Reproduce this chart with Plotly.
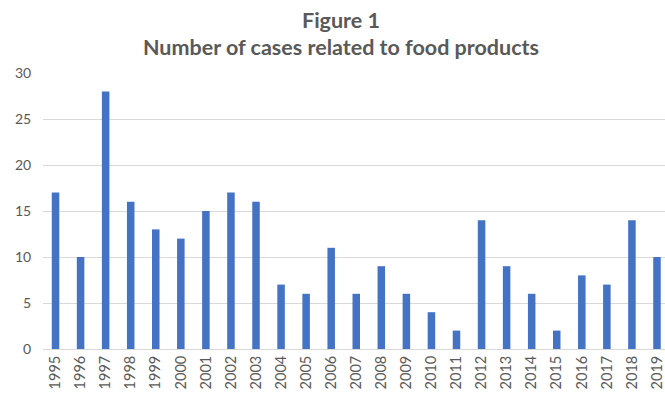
import plotly.graph_objects as go

years = [str(y) for y in range(1995, 2020)]
cases = [17, 10, 28, 16, 13, 12, 15, 17, 16, 7, 6, 11, 6, 9, 6, 4, 2, 14, 9, 6, 2, 8, 7, 14, 10]
title_lines = ["Figure 1", "Number of cases related to food products"]

fig = go.Figure(go.Bar(x=years, y=cases, marker_color="#4472C4", marker_line_width=0))

fig.update_layout(
    width=665, height=395,
    margin=dict(l=43, r=0, t=73, b=46),
    paper_bgcolor="white", plot_bgcolor="white",
    bargap=0.7,
    font=dict(family="Lato", color="#595959"),
    showlegend=False,
)
for i, (line, ypix) in enumerate(zip(title_lines, [20, 47])):
    fig.add_annotation(text="<b>" + line + "</b>", xref="paper", yref="paper",
                       x=(341 - 43) / 622, y=(395 - 46 - ypix) / 276 - 0.0,
                       yshift=0, xanchor="center", yanchor="middle", showarrow=False,
                       font=dict(size=21.5, color="#595959", family="Lato"))
fig.update_xaxes(type="category", range=[-0.5, 24.32], tickangle=-90,
                 tickfont=dict(size=14.5, color="#595959"), showgrid=False,
                 showline=True, linecolor="#D9D9D9", linewidth=1, ticks="", ticklen=0)
fig.update_yaxes(range=[0, 30], dtick=5, gridcolor="#D9D9D9", gridwidth=1,
                 tickfont=dict(size=14, color="#595959"), zeroline=False,
                 showline=False, ticks="outside", ticklen=8, tickcolor="white")

fig.write_html("out.html")
